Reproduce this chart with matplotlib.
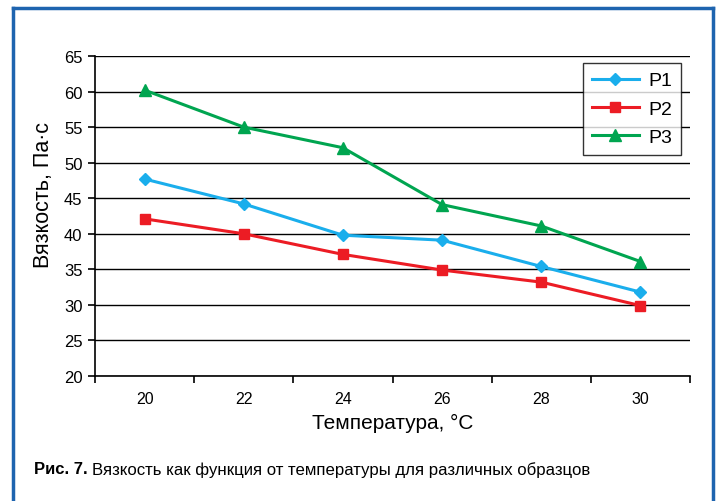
import matplotlib.pyplot as plt
from matplotlib.lines import Line2D

plt.rcParams['font.family'] = ['Liberation Sans', 'DejaVu Sans']

# temperatures and viscosity of the three samples
temps = ['20', '22', '24', '26', '28', '30']
p1 = [47.7, 44.2, 39.8, 39.1, 35.4, 31.8]
p2 = [42.1, 40.0, 37.1, 34.9, 33.2, 29.9]
p3 = [60.2, 55.0, 52.1, 44.1, 41.1, 36.1]
series_names = ['P1', 'P2', 'P3']

fig = plt.figure(figsize=(7.16, 5.02), dpi=100)
ax = fig.add_axes([95 / 716, 1 - 377 / 502, 595 / 716, 320 / 502])

x = range(len(temps))
ax.plot(x, p1, color='#1AAEEC', lw=2.2, marker='D', ms=6, label=series_names[0], zorder=3)
ax.plot(x, p2, color='#EC1C24', lw=2.2, marker='s', ms=7, label=series_names[1], zorder=3)
ax.plot(x, p3, color='#00A550', lw=2.2, marker='^', ms=8, label=series_names[2], zorder=3)

ax.set_xlim(-0.5, len(temps) - 0.5)
ax.set_ylim(20, 65)
ax.set_yticks(range(20, 66, 5))
ax.set_xticks(list(x))
ax.set_xticklabels(temps)
ax.set_xticks([i - 0.5 for i in range(len(temps) + 1)], minor=True)
ax.tick_params(axis='x', which='major', length=0, labelsize=11.5, pad=11)
ax.tick_params(axis='x', which='minor', length=5, direction='out', width=1.2)
ax.tick_params(axis='y', length=5, direction='out', width=1.2, labelsize=12, pad=4)
ax.yaxis.grid(True, color='black', lw=1)
ax.set_axisbelow(True)
for s in ['top', 'right']:
    ax.spines[s].set_visible(False)
for s in ['left', 'bottom']:
    ax.spines[s].set_linewidth(1.2)

ax.set_xlabel('Температура, °C', fontsize=15, labelpad=5)
ax.set_ylabel('Вязкость, Па·с', fontsize=15.5, va='center')
ax.yaxis.set_label_coords(-51 / 595, (377 - 195) / 320)

leg = ax.legend(loc='upper right', bbox_to_anchor=(681 / 716, 1 - 64 / 502),
                bbox_transform=fig.transFigure, borderaxespad=0, fontsize=14,
                frameon=True, fancybox=False, edgecolor='black', handlelength=2.4,
                borderpad=0.45, labelspacing=0.55, handletextpad=0.5)
leg.get_frame().set_linewidth(1.0)

# blue frame around the figure, open at the bottom
frame_c = '#1E64AF'
fig.add_artist(Line2D([13 / 716, 13 / 716], [0, 1 - 9 / 502], color=frame_c, lw=2.5, transform=fig.transFigure))
fig.add_artist(Line2D([13 / 716, 713 / 716], [1 - 9 / 502, 1 - 9 / 502], color=frame_c, lw=2.5, transform=fig.transFigure))
fig.add_artist(Line2D([713 / 716, 713 / 716], [0, 1 - 9 / 502], color=frame_c, lw=2.5, transform=fig.transFigure))

t = fig.text(34 / 716, 1 - 470 / 502, 'Рис. 7.', fontsize=12, fontweight='bold',
             va='center')
fig.canvas.draw()
bb = t.get_window_extent()
cap = fig.text((bb.x1 + 4) / 716, 1 - 470 / 502,
               'Вязкость как функция от температуры для различных образцов',
               fontsize=11.5, va='center')
fig.canvas.draw()
w = cap.get_window_extent().x1 - cap.get_window_extent().x0
cap.set_fontsize(11.5 * (592 - bb.x1 - 4) / w)

fig.savefig('out.png', dpi=100)
